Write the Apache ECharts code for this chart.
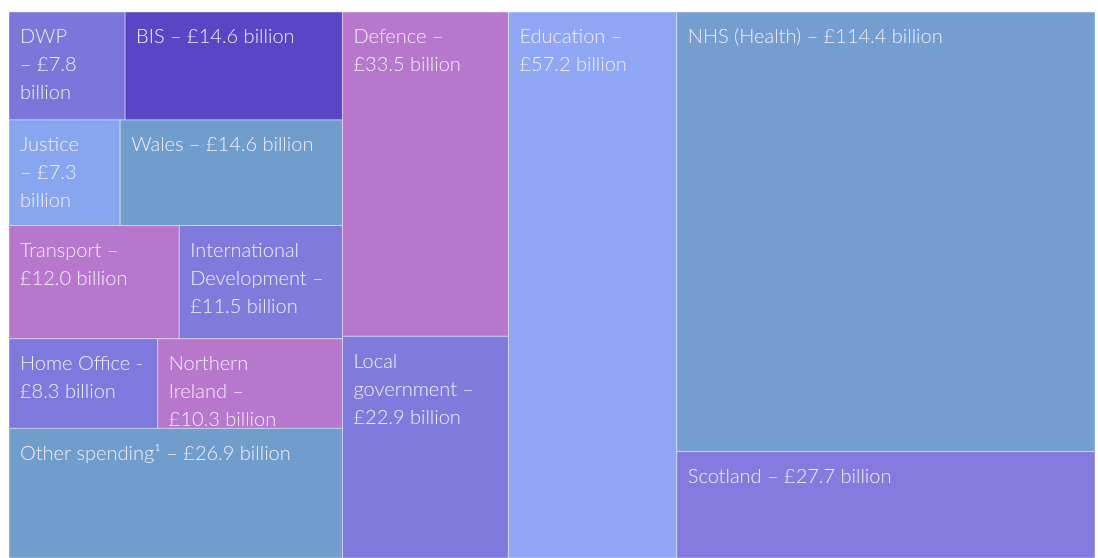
<!DOCTYPE html>
<html>
<head>
<meta charset="utf-8">
<title>Public spending treemap</title>
<script src="https://cdn.jsdelivr.net/npm/echarts@6/dist/echarts.min.js"></script>
<style>
  html, body { margin: 0; padding: 0; background: #fff; }
  #main { width: 1098px; height: 558px; }
</style>
</head>
<body>
<div id="main"></div>
<script>
// spending blocks, £ billion
const names = ['DWP', 'BIS', 'Justice', 'Wales', 'Transport', 'International Development',
  'Home Office', 'Northern Ireland', 'Other spending', 'Defence', 'Local government',
  'Education', 'NHS (Health)', 'Scotland']
const values = [7.8, 14.6, 7.3, 14.6, 12.0, 11.5, 8.3, 10.3, 26.9, 33.5, 22.9, 57.2, 114.4, 27.7]
const labels = [
  'DWP\n– £7.8\nbillion',
  'BIS – £14.6 billion',
  'Justice\n– £7.3\nbillion',
  'Wales – £14.6 billion',
  'Transport –\n£12.0 billion',
  'International\nDevelopment –\n£11.5 billion',
  'Home Office -\n£8.3 billion',
  'Northern\nIreland –\n£10.3 billion',
  'Other spending¹ – £26.9 billion',
  'Defence –\n£33.5 billion',
  'Local\ngovernment –\n£22.9 billion',
  'Education –\n£57.2 billion',
  'NHS (Health) – £114.4 billion',
  'Scotland – £27.7 billion'
]
const colors = ['#7b76d9', '#5a45c7', '#88a6f0', '#719dcc', '#b777cc', '#7f7bdc',
  '#7e79dd', '#b777cc', '#719dcc', '#b777cc', '#7f7bdc', '#8fa7f4', '#739ecf', '#857bdf']
// columns -> rows -> block indexes (slice and dice)
const groups = [
  [[0, 1], [2, 3], [4, 5], [6, 7], [8]],
  [[9], [10]],
  [[11]],
  [[12], [13]]
]

const sum = (idx) => idx.reduce((s, i) => s + values[i], 0)

// build rectangles in value space: x = cumulative £bn, y = share of column
const cells = []
let x = 0
groups.forEach((col) => {
  const colSum = col.reduce((s, row) => s + sum(row), 0)
  let y = 0
  col.forEach((row) => {
    const rowSum = sum(row)
    const h = rowSum / colSum
    let rx = x
    row.forEach((i) => {
      const w = values[i] / rowSum * colSum
      cells.push([rx, y, rx + w, y + h, i])
      rx += w
    })
    y += h
  })
  x += colSum
})
const total = x

const chart = echarts.init(document.getElementById('main'))

const option = {
  animation: false,
  grid: { left: 9, right: 3, top: 12, bottom: 0 },
  xAxis: { type: 'value', min: 0, max: total, show: false },
  yAxis: { type: 'value', min: 0, max: 1, inverse: true, show: false },
  series: [
    {
      type: 'custom',
      data: cells,
      encode: { x: [0, 2], y: [1, 3] },
      renderItem: function (params, api) {
        const p0 = api.coord([api.value(0), api.value(1)])
        const p1 = api.coord([api.value(2), api.value(3)])
        const i = api.value(4)
        return {
          type: 'group',
          children: [
            {
              type: 'rect',
              shape: { x: p0[0], y: p0[1], width: p1[0] - p0[0], height: p1[1] - p0[1] },
              style: { fill: colors[i], stroke: 'rgba(255,255,255,0.4)', lineWidth: 1 }
            },
            {
              type: 'text',
              x: p0[0] + 11,
              y: p0[1] + 11,
              style: {
                text: labels[i],
                fill: '#f1ecfa',
                fontFamily: 'Lato',
                fontWeight: 300,
                fontSize: 20,
                lineHeight: 28,
                align: 'left',
                verticalAlign: 'top'
              }
            }
          ]
        }
      }
    }
  ]
}

chart.setOption(option)
</script>
</body>
</html>
